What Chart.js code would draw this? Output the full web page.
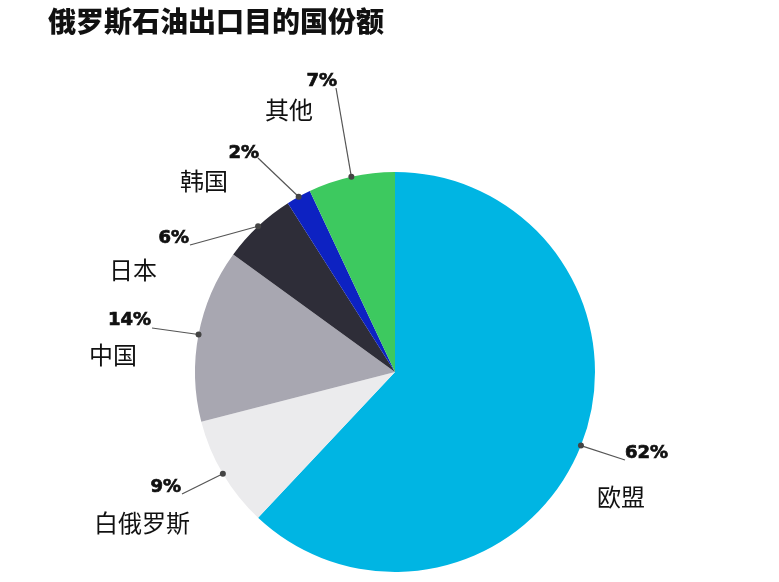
<!DOCTYPE html>
<html>
<head>
<meta charset="utf-8">
<script src="https://cdn.jsdelivr.net/npm/chart.js@4"></script>
<style>
  html, body { margin: 0; padding: 0; background: #fff; }
  #wrap { width: 779px; height: 582px; position: relative; }
</style>
</head>
<body>
<div id="wrap"><canvas id="pieChart"></canvas></div>
<script>
const chartTitle = '俄罗斯石油出口目的国份额';
const categories = ['欧盟', '白俄罗斯', '中国', '日本', '韩国', '其他'];
const shares = [62, 9, 14, 6, 2, 7];
const sliceColors = ['#00b5e3', '#ebebed', '#a8a7b1', '#2e2d38', '#0d22c2', '#3dc95f'];

// hand placed label spots: percent text, name text, end of leader line
const labelLayout = [
  { pct: [625, 453, 'left'],  name: [597, 497], end: [625, 460] },
  { pct: [181, 487, 'right'], name: [94, 523],  end: [182, 494] },
  { pct: [151, 320, 'right'], name: [89, 355],  end: [152, 328] },
  { pct: [189, 238, 'right'], name: [109, 270], end: [190, 245] },
  { pct: [259, 153, 'right'], name: [180, 181], end: [258, 158] },
  { pct: [337, 81, 'right'],  name: [265, 110], end: [336, 88] }
];

const labelPlugin = {
  id: 'pieLabels',
  afterDraw(chart) {
    const ctx = chart.ctx;
    ctx.save();
    // title
    ctx.fillStyle = '#111';
    ctx.font = '900 28px "Noto Sans CJK SC"';
    ctx.textAlign = 'left';
    ctx.textBaseline = 'middle';
    ctx.fillText(chartTitle, 48, 21);

    const arcs = chart.getDatasetMeta(0).data;
    arcs.forEach((arc, i) => {
      const mid = (arc.startAngle + arc.endAngle) / 2;
      const px = arc.x + Math.cos(mid) * arc.outerRadius;
      const py = arc.y + Math.sin(mid) * arc.outerRadius;
      const lay = labelLayout[i];

      ctx.strokeStyle = '#555';
      ctx.lineWidth = 1.2;
      ctx.beginPath();
      ctx.moveTo(px, py);
      ctx.lineTo(lay.end[0], lay.end[1]);
      ctx.stroke();
      ctx.fillStyle = '#444';
      ctx.beginPath();
      ctx.arc(px, py, 3, 0, Math.PI * 2);
      ctx.fill();

      // percent, a bit heavier than plain bold
      ctx.fillStyle = '#111';
      ctx.strokeStyle = '#111';
      ctx.lineWidth = 0.7;
      ctx.font = 'bold 18px "DejaVu Sans"';
      ctx.textAlign = lay.pct[2];
      ctx.fillText(shares[i] + '%', lay.pct[0], lay.pct[1]);
      ctx.strokeText(shares[i] + '%', lay.pct[0], lay.pct[1]);

      ctx.font = '400 24px "Noto Sans CJK SC"';
      ctx.textAlign = 'left';
      ctx.fillText(categories[i], lay.name[0], lay.name[1]);
    });
    ctx.restore();
  }
};

new Chart(document.getElementById('pieChart'), {
  type: 'pie',
  data: {
    labels: categories,
    datasets: [{
      data: shares,
      backgroundColor: sliceColors,
      borderWidth: 0
    }]
  },
  options: {
    responsive: true,
    maintainAspectRatio: false,
    animation: false,
    layout: { padding: { top: 172, bottom: 10, left: 195, right: 184 } },
    plugins: {
      legend: { display: false },
      tooltip: { enabled: false }
    }
  },
  plugins: [labelPlugin]
});
</script>
</body>
</html>
